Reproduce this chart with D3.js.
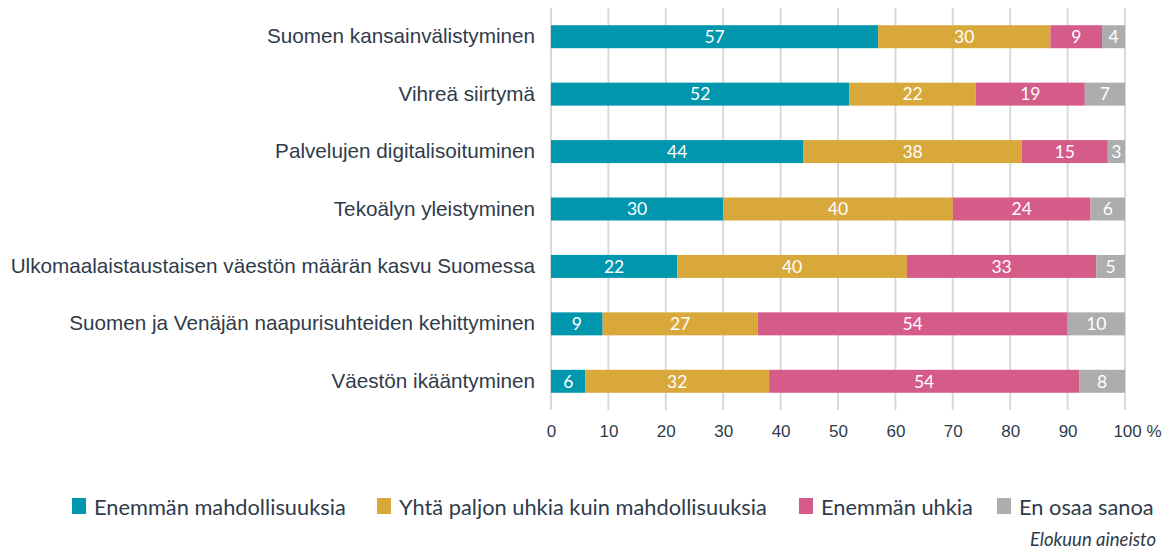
<!DOCTYPE html>
<html>
<head>
<meta charset="utf-8">
<script src="https://cdn.jsdelivr.net/npm/d3@7"></script>
<style>
  body { margin: 0; background: #fff; }
  svg { font-family: Lato, "Noto Sans", sans-serif; }
</style>
</head>
<body>
<div id="chart"></div>
<script>
// Data
const categories = [
    "Suomen kansainvälistyminen",
    "Vihreä siirtymä",
    "Palvelujen digitalisoituminen",
    "Tekoälyn yleistyminen",
    "Ulkomaalaistaustaisen väestön määrän kasvu Suomessa",
    "Suomen ja Venäjän naapurisuhteiden kehittyminen",
    "Väestön ikääntyminen"
];
const seriesNames = [
    "Enemmän mahdollisuuksia",
    "Yhtä paljon uhkia kuin mahdollisuuksia",
    "Enemmän uhkia",
    "En osaa sanoa"
];
const moreOpportunities = [57, 52, 44, 30, 22, 9, 6];
const equal = [30, 22, 38, 40, 40, 27, 32];
const moreThreats = [9, 19, 15, 24, 33, 54, 54];
const dontKnow = [4, 7, 3, 6, 5, 10, 8];
const xTicks = [0, 10, 20, 30, 40, 50, 60, 70, 80, 90, 100];
const colors = ["#0096ad", "#d9a83b", "#d55c88", "#adadad"];

const W = 1166, H = 554;
const plot = { left: 551, right: 1125, top: 8, bottom: 410 };
const textColor = "#2f3b4a";

const svg = d3.select("#chart")
    .append("svg")
    .attr("width", W)
    .attr("height", H);

// Build table: one row per category
const table = categories.map((c, i) => ({
    category: c,
    values: [moreOpportunities[i], equal[i], moreThreats[i], dontKnow[i]]
}));

const xScale = d3.scaleLinear().domain([0, 100]).range([plot.left, plot.right]);
const yScale = d3.scaleBand()
    .domain(categories)
    .range([plot.top, plot.bottom])
    .paddingInner(0.6)
    .paddingOuter(0.3);

// Grid lines
svg.append("g")
    .selectAll("line")
    .data(xTicks)
    .enter()
    .append("line")
    .attr("x1", d => xScale(d))
    .attr("x2", d => xScale(d))
    .attr("y1", plot.top)
    .attr("y2", plot.bottom)
    .attr("stroke", "#d9d9d9")
    .attr("stroke-width", 2);

// X axis labels
const xAxis = d3.axisBottom(xScale)
    .tickValues(xTicks)
    .tickSize(0)
    .tickPadding(0)
    .tickFormat(d => d === 100 ? "100 %" : d);

const gx = svg.append("g")
    .attr("transform", `translate(0,${plot.bottom + 15})`)
    .call(xAxis);
gx.select(".domain").remove();
gx.selectAll("text")
    .attr("fill", textColor)
    .style("font-size", "17px")
    .attr("dx", d => d === 100 ? "12px" : 0);

// Category labels
const yAxis = d3.axisLeft(yScale).tickSize(0).tickPadding(16);
const gy = svg.append("g")
    .attr("transform", `translate(${plot.left},0)`)
    .call(yAxis);
gy.select(".domain").remove();
gy.selectAll("text")
    .attr("fill", textColor)
    .style("font-size", "20.7px");

// Stacked bars
const rows = svg.append("g")
    .selectAll("g")
    .data(table)
    .enter()
    .append("g")
    .attr("transform", d => `translate(0,${yScale(d.category)})`);

rows.each(function(d) {
    let acc = 0;
    const segs = d.values.map((v, k) => {
        const s = { start: acc, value: v, k: k };
        acc += v;
        return s;
    });
    const g = d3.select(this);
    g.selectAll("rect")
        .data(segs)
        .enter()
        .append("rect")
        .attr("x", s => xScale(s.start))
        .attr("width", s => xScale(s.start + s.value) - xScale(s.start))
        .attr("y", 0)
        .attr("height", yScale.bandwidth())
        .attr("fill", s => colors[s.k]);
    g.selectAll("text")
        .data(segs)
        .enter()
        .append("text")
        .attr("x", s => xScale(s.start + s.value / 2))
        .attr("y", yScale.bandwidth() / 2)
        .attr("dy", "0.36em")
        .attr("text-anchor", "middle")
        .attr("fill", "#fff")
        .style("font-size", "17.5px")
        .text(s => s.value);
});

// Legend
const legendX = [72, 377, 799, 997];
const legend = svg.append("g")
    .selectAll("g")
    .data(seriesNames)
    .enter()
    .append("g")
    .attr("transform", (d, i) => `translate(${legendX[i]},507)`);
legend.append("rect")
    .attr("x", 0)
    .attr("y", -9)
    .attr("width", 14)
    .attr("height", 16)
    .attr("fill", (d, i) => colors[i]);
legend.append("text")
    .attr("x", 22)
    .attr("y", 0)
    .attr("dy", "0.35em")
    .attr("fill", textColor)
    .style("font-size", "21.8px")
    .text(d => d);

// Source note
svg.append("text")
    .attr("x", 1156)
    .attr("y", 540)
    .attr("dy", "0.35em")
    .attr("text-anchor", "end")
    .attr("fill", textColor)
    .style("font-size", "18.5px")
    .style("font-style", "italic")
    .text("Elokuun aineisto");
</script>
</body>
</html>
